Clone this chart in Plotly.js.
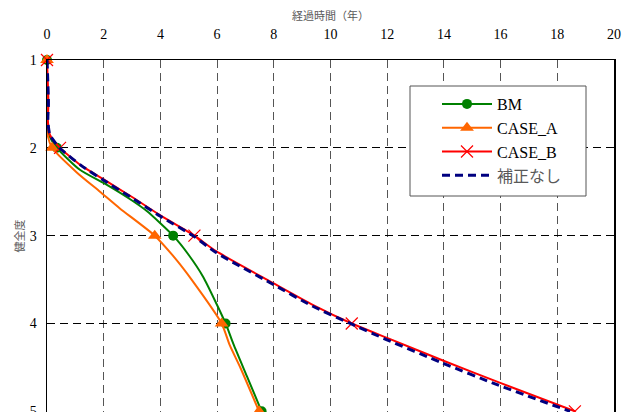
<!DOCTYPE html>
<html>
<head>
<meta charset="utf-8">
<script src="https://cdn.plot.ly/plotly-3.0.1.min.js"></script>
<style>html,body{margin:0;padding:0;background:#fff;}#chart{width:632px;height:412px;}</style>
</head>
<body>
<div id="chart"></div>
<script>
// ---- data ----
const xTicks = [0, 2, 4, 6, 8, 10, 12, 14, 16, 18, 20];
const yTicks = [1, 2, 3, 4, 5];

// BM
const bmYears  = [0, 0.0, 0.0, 0.07, 0.35, 1.16, 2.1, 3.0, 3.52, 4.45, 5.0, 5.51, 6.3, 6.57, 7.05, 7.57];
const bmHealth = [1, 1.5, 1.68, 1.85, 2.0, 2.25, 2.42, 2.6, 2.72, 3.0, 3.22, 3.47, 4.0, 4.23, 4.6, 5.0];
// CASE_A
const caYears  = [0, 0.0, 0.0, 0.02, 0.18, 1.05, 1.87, 2.57, 3.8, 4.5, 5.1, 6.16, 6.45, 6.83, 7.48];
const caHealth = [1, 1.5, 1.68, 1.85, 2.0, 2.28, 2.5, 2.69, 3.0, 3.25, 3.5, 4.0, 4.25, 4.51, 5.0];
// CASE_B
const cbYears  = [0, 0.05, 0.03, 0.1, 0.46, 1.2, 2.0, 3.0, 4.0, 5.2, 5.98, 7.98, 9.39, 10.75, 12.04, 14.03, 16.01, 18.62];
const cbHealth = [1, 1.5, 1.68, 1.85, 2.0, 2.2, 2.36, 2.56, 2.77, 3.0, 3.18, 3.54, 3.79, 4.0, 4.17, 4.43, 4.68, 5.0];
// 補正なし
const ncYears  = [0, 0.05, 0.03, 0.1, 0.44, 1.2, 2.0, 3.0, 4.0, 5.15, 5.95, 7.95, 9.35, 10.7, 11.95, 13.95, 15.9, 18.45];
const ncHealth = [1, 1.5, 1.68, 1.85, 2.0, 2.2, 2.37, 2.57, 2.78, 3.0, 3.19, 3.55, 3.8, 4.0, 4.18, 4.45, 4.7, 5.0];

const seriesNames = ['BM', 'CASE_A', 'CASE_B', '補正なし'];

// ---- helpers ----
function atIntegers(xs, ys) {
  const px = [], py = [];
  ys.forEach((y, i) => { if (Number.isInteger(y)) { px.push(xs[i]); py.push(y); } });
  return {x: px, y: py};
}

const serif = "Liberation Serif";
const cjk = "Noto Sans CJK JP";

const styles = [
  {line: {color: '#008000', width: 2}, marker: {symbol: 'circle', size: 10, color: '#008000'}},
  {line: {color: '#FF6600', width: 2}, marker: {symbol: 'triangle-up', size: 12, color: '#FF6600'}},
  {line: {color: '#FF0000', width: 2}, marker: {symbol: 'x-thin-open', size: 12, color: '#FF0000', line: {color: '#FF0000', width: 1.2}}},
  {line: {color: '#000080', width: 3, dash: '8px,5px'}, marker: null}
];
const data = [[bmYears, bmHealth], [caYears, caHealth], [cbYears, cbHealth], [ncYears, ncHealth]];

const traces = [];
data.forEach((d, i) => {
  const st = styles[i];
  traces.push({x: d[0], y: d[1], type: 'scatter', mode: 'lines', line: Object.assign({shape: 'spline', smoothing: 0.6}, st.line), showlegend: false, hoverinfo: 'skip', legendgroup: 'g' + i});
  if (st.marker) {
    const m = atIntegers(d[0], d[1]);
    traces.push({x: m.x, y: m.y, type: 'scatter', mode: 'markers', marker: st.marker, showlegend: false, cliponaxis: false, legendgroup: 'g' + i});
  }
});
// legend entries
data.forEach((d, i) => {
  const st = styles[i];
  const name = i === 3 ? '<span style="font-family:Noto Sans CJK JP;color:#595959">' + seriesNames[i] + '</span>' : seriesNames[i];
  const t = {x: [null], y: [null], type: 'scatter', mode: st.marker ? 'lines+markers' : 'lines', name: name, line: st.line, legendgroup: 'g' + i};
  if (st.marker) t.marker = st.marker;
  traces.push(t);
});

const px2x = p => (p - 47) / 567;
const px2y = p => (412 - p) / 352;

const layout = {
  width: 632, height: 412,
  margin: {l: 47, r: 18, t: 60, b: 0},
  paper_bgcolor: '#fff', plot_bgcolor: '#fff',
  font: {family: serif, color: '#000'},
  showlegend: true,
  xaxis: {
    side: 'top', range: [0, 20], tickvals: xTicks, ticktext: xTicks.map(String),
    showgrid: true, gridcolor: '#555', gridwidth: 1, griddash: '8px,5px',
    showline: true, linecolor: '#000', linewidth: 1.5, mirror: true,
    zeroline: false, ticks: 'outside', ticklen: 14, tickcolor: 'rgba(0,0,0,0)',
    tickfont: {family: serif, size: 14, color: '#000'},
    title: {text: '経過時間（年）', font: {family: cjk, size: 11, color: '#595959'}, standoff: 4}
  },
  yaxis: {
    range: [5.008, 1], tickvals: yTicks, ticktext: yTicks.map(String),
    ticklabeloverflow: 'allow',
    showgrid: true, gridcolor: '#000', gridwidth: 1, griddash: '8px,5px',
    showline: true, linecolor: '#000', linewidth: 1.5, mirror: true,
    zeroline: false, ticks: 'outside', ticklen: 6, tickcolor: 'rgba(0,0,0,0)',
    tickfont: {family: serif, size: 14, color: '#000'},
    title: {text: '健全度', font: {family: cjk, size: 11, color: '#595959'}, standoff: 3}
  },
  shapes: [{
    type: 'rect', xref: 'paper', yref: 'paper', layer: 'above',
    x0: px2x(410), x1: px2x(586), y0: px2y(196), y1: px2y(86),
    line: {color: '#555', width: 1}, fillcolor: '#fff'
  }],
  legend: {
    x: px2x(437), y: px2y(87), xanchor: 'left', yanchor: 'top',
    bgcolor: 'rgba(0,0,0,0)', borderwidth: 0,
    font: {family: serif, size: 16, color: '#000'},
    tracegroupgap: 7, itemwidth: 50, traceorder: 'normal'
  }
};

Plotly.newPlot('chart', traces, layout, {staticPlot: true, displayModeBar: false});
</script>
</body>
</html>
